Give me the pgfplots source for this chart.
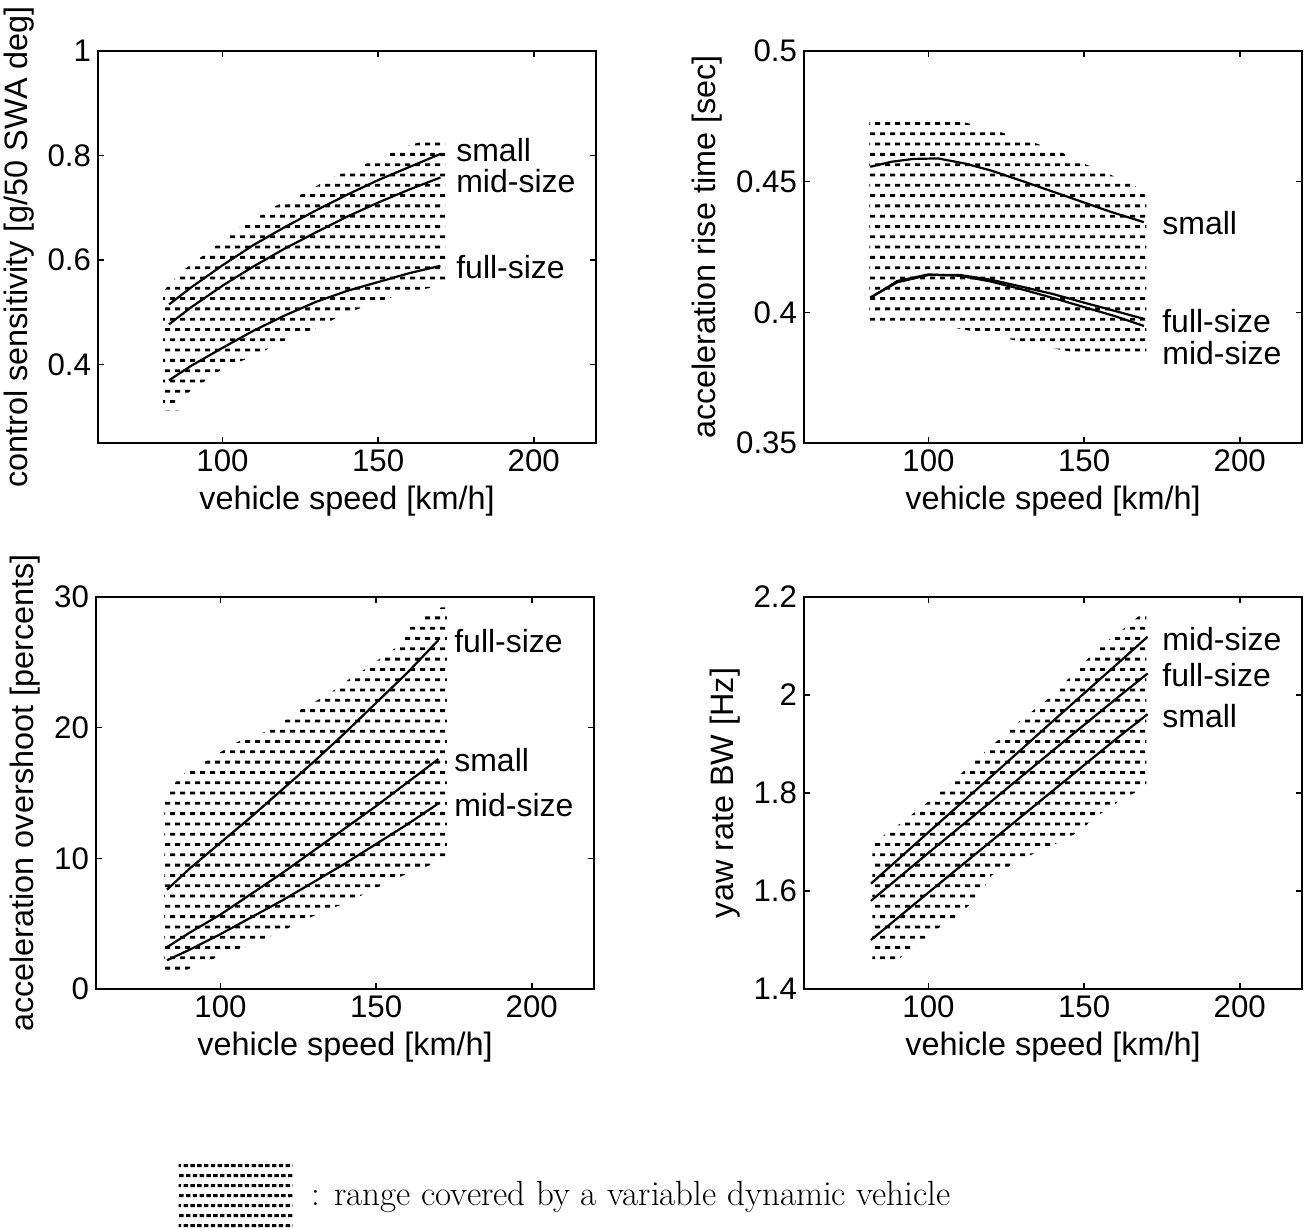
\documentclass[border=0pt]{standalone}
\usepackage{fontspec}
\newfontfamily\hv{Liberation Sans}
\usepackage{pgfplots}
\pgfplotsset{compat=1.18}
\usetikzlibrary{patterns}

% staggered rows of short dashes, as in the scanned figure
\pgfdeclarepatternformonly{hdash}{\pgfqpoint{-0.1pt}{-0.1pt}}{\pgfqpoint{5.1pt}{10.4pt}}{\pgfqpoint{5pt}{10.3pt}}{%
  \pgfpathrectangle{\pgfqpoint{0pt}{0pt}}{\pgfqpoint{2.6pt}{1.4pt}}%
  \pgfpathrectangle{\pgfqpoint{2.5pt}{5.15pt}}{\pgfqpoint{2.5pt}{1.4pt}}%
  \pgfusepath{fill}}
\pgfdeclarepatternformonly{legdash}{\pgfqpoint{-0.1pt}{-0.1pt}}{\pgfqpoint{3.5pt}{10.1pt}}{\pgfqpoint{3.4pt}{10pt}}{%
  \pgfpathrectangle{\pgfqpoint{0pt}{0pt}}{\pgfqpoint{2.2pt}{1.4pt}}%
  \pgfpathrectangle{\pgfqpoint{1.2pt}{5pt}}{\pgfqpoint{2.2pt}{1.4pt}}%
  \pgfusepath{fill}}

\tikzset{tag/.style={anchor=west, inner sep=0pt, font=\hv\fontsize{16}{18}\selectfont}}

\pgfplotsset{
  panel/.style={
    scale only axis, width=249pt, height=196pt,
    xmin=60, xmax=220, xtick={100,150,200},
    tick align=inside, major tick length=3pt,
    axis line style={line width=1.1pt},
    every tick/.style={black, line width=0.8pt},
    tick label style={font=\hv\fontsize{15.6}{18}\selectfont},
    label style={font=\hv\fontsize{16.2}{18}\selectfont},
    xlabel={vehicle speed [km/h]},
    scaled ticks=false,
    /pgf/number format/assume math mode=true,
  },
  curve/.style={black, line width=1.1pt, forget plot},
  region/.style={draw=none, pattern=hdash},
}

\begin{document}
\begin{tikzpicture}
\useasboundingbox (0pt,0pt) rectangle (655pt,-613.5pt);

% ---------------- control sensitivity
\begin{axis}[panel, at={(49pt,-221.5pt)}, anchor=south west,
  ymin=0.25, ymax=1, ytick={0.4,0.6,0.8,1},
  ylabel={control sensitivity [g/50 SWA deg]}]
\addplot[region, forget plot] coordinates {
  (80.9,0.312) (80.9,0.540) (86.6,0.577) (96.1,0.619) (100.5,0.641) (105,0.660)
  (111.3,0.682) (116.4,0.702) (122.7,0.717) (135.4,0.759) (143.6,0.778)
  (151.2,0.797) (159.4,0.819) (171.5,0.838) (171.5,0.553) (157.3,0.535)
  (148,0.516) (137.9,0.494) (132.2,0.475) (124,0.456) (116.4,0.437)
  (111.3,0.418) (101.2,0.397) (96.1,0.376) (91,0.354) (86,0.335) (86,0.312)
} -- cycle;
\addplot[curve] coordinates {
  (82.8,0.515) (90,0.548) (100,0.590) (110,0.629) (120,0.663) (130,0.695)
  (140,0.725) (150,0.753) (160,0.778) (170,0.803)};
\addplot[curve] coordinates {
  (82.8,0.477) (90,0.510) (100,0.551) (110,0.588) (120,0.622) (130,0.653)
  (140,0.683) (150,0.710) (160,0.735) (170,0.758)};
\addplot[curve] coordinates {
  (82.8,0.370) (90,0.398) (100,0.432) (110,0.465) (120,0.494) (130,0.520)
  (140,0.541) (150,0.558) (160,0.575) (170,0.589)};
\node[tag] at (axis cs:175,0.810) {small};
\node[tag] at (axis cs:175,0.752) {mid-size};
\node[tag] at (axis cs:175,0.586) {full-size};
\end{axis}

% ---------------- acceleration rise time
\begin{axis}[panel, at={(402pt,-221.5pt)}, anchor=south west,
  ymin=0.35, ymax=0.5, ytick={0.35,0.4,0.45,0.5},
  ylabel={acceleration rise time [sec]}]
\addplot[region, forget plot] coordinates {
  (81,0.3965) (81,0.4745) (106,0.4745) (122.5,0.4692) (134.2,0.4648)
  (143.1,0.4610) (150.7,0.4565) (158.2,0.4528) (166.5,0.4483) (170,0.4445)
  (170,0.3830) (155.5,0.3830) (137,0.3868) (118.4,0.3918) (100,0.3960)
} -- cycle;
\addplot[curve] coordinates {
  (81.3,0.4557) (88,0.4576) (95,0.4587) (103,0.4589) (111.5,0.4570)
  (120,0.4543) (130.7,0.4500) (144.5,0.4443) (158.2,0.4386) (169.2,0.4345)};
\addplot[curve] coordinates {
  (81.3,0.4057) (90,0.4115) (100,0.4143) (110,0.4143) (120,0.4125)
  (130,0.4098) (140,0.4070) (150,0.4037) (160,0.4005) (169.2,0.3975)};
\addplot[curve] coordinates {
  (81.3,0.4055) (90,0.4120) (100,0.4145) (110,0.4140) (120,0.4118)
  (130,0.4088) (140,0.4055) (150,0.4020) (160,0.3985) (169.2,0.3948)};
\node[tag] at (axis cs:175,0.434) {small};
\node[tag] at (axis cs:175,0.3965) {full-size};
\node[tag] at (axis cs:175,0.3845) {mid-size};
\end{axis}

% ---------------- acceleration overshoot
\begin{axis}[panel, at={(48pt,-494.5pt)}, anchor=south west,
  ymin=0, ymax=30, ytick={0,10,20,30},
  ylabel={acceleration overshoot [percents]},
  legend style={at={(axis description cs:0.165,-0.538)}, anchor=west,
    draw=none, fill=none, inner sep=0pt,
    nodes={inner sep=1.5pt},
    font=\fontsize{17.5}{20}\selectfont},
  legend image code/.code={\fill[pattern=legdash] (0pt,-21.5pt) rectangle (57pt,16.5pt);}]
\addplot[region] coordinates {
  (82,1.2) (82,14.7) (84.7,15.3) (86,16.1) (91,16.9) (96.7,17.6) (101.8,18.4)
  (106.9,19.1) (117,19.9) (122.1,20.8) (127.1,21.6) (132.8,22.3) (137.9,23.1)
  (142.3,23.9) (147.4,24.6) (151.8,25.4) (156.9,26.2) (160.7,27.7) (165.1,28.4)
  (170.8,29.2) (172.7,29.2) (172.7,10.0) (170.8,9.8) (163.2,9.1) (155.6,8.4)
  (147.4,7.4) (140.4,6.6) (132.8,5.9) (125.2,5.1) (118.9,4.3) (111.3,3.6)
  (103.1,2.8) (94.2,2.0) (86.6,1.2)
} -- cycle;
\addlegendentry{\hspace{8pt}: range covered by a variable dynamic vehicle}
\addplot[curve] coordinates {
  (82.8,7.6) (90,9.2) (100,11.2) (110,13.2) (120,15.3) (130,17.4)
  (140,19.6) (150,21.9) (160,24.2) (170,26.7)};
\addplot[curve] coordinates {
  (82.8,3.2) (90,4.3) (100,5.7) (110,7.3) (120,8.9) (130,10.6)
  (140,12.3) (150,14.0) (160,15.8) (170,17.6)};
\addplot[curve] coordinates {
  (82.8,2.2) (90,3.0) (100,4.2) (110,5.5) (120,6.8) (130,8.2)
  (140,9.6) (150,11.1) (160,12.6) (170,14.2)};
\node[tag] at (axis cs:175,26.6) {full-size};
\node[tag] at (axis cs:175,17.5) {small};
\node[tag] at (axis cs:175,14.1) {mid-size};
\end{axis}

% ---------------- yaw rate bandwidth
\begin{axis}[panel, at={(402pt,-494.5pt)}, anchor=south west,
  ymin=1.4, ymax=2.2, ytick={1.4,1.6,1.8,2,2.2},
  ylabel={yaw rate BW [Hz]}]
\addplot[region, forget plot] coordinates {
  (82,1.46) (82,1.698) (91.9,1.742) (105,1.808) (116.1,1.872) (127.9,1.940)
  (139.6,1.998) (150.7,2.071) (157.6,2.111) (163.2,2.138) (168,2.163)
  (170,2.163) (170,1.812) (162.5,1.789) (157.6,1.768) (152.1,1.744)
  (149.3,1.724) (141,1.697) (132.7,1.673) (120.2,1.632) (116,1.588)
  (107.8,1.541) (102.2,1.521) (98,1.497) (93.2,1.477) (88.4,1.448) (84.2,1.448)
} -- cycle;
\addplot[curve] coordinates {
  (81.5,1.615) (100,1.720) (120,1.833) (140,1.947) (160,2.060) (170.4,2.119)};
\addplot[curve] coordinates {
  (81.5,1.580) (100,1.678) (120,1.782) (140,1.887) (160,1.991) (170.4,2.044)};
\addplot[curve] coordinates {
  (81.5,1.500) (100,1.597) (120,1.701) (140,1.805) (160,1.909) (170.4,1.961)};
\node[tag] at (axis cs:175,2.115) {mid-size};
\node[tag] at (axis cs:175,2.041) {full-size};
\node[tag] at (axis cs:175,1.957) {small};
\end{axis}
\end{tikzpicture}
\end{document}
